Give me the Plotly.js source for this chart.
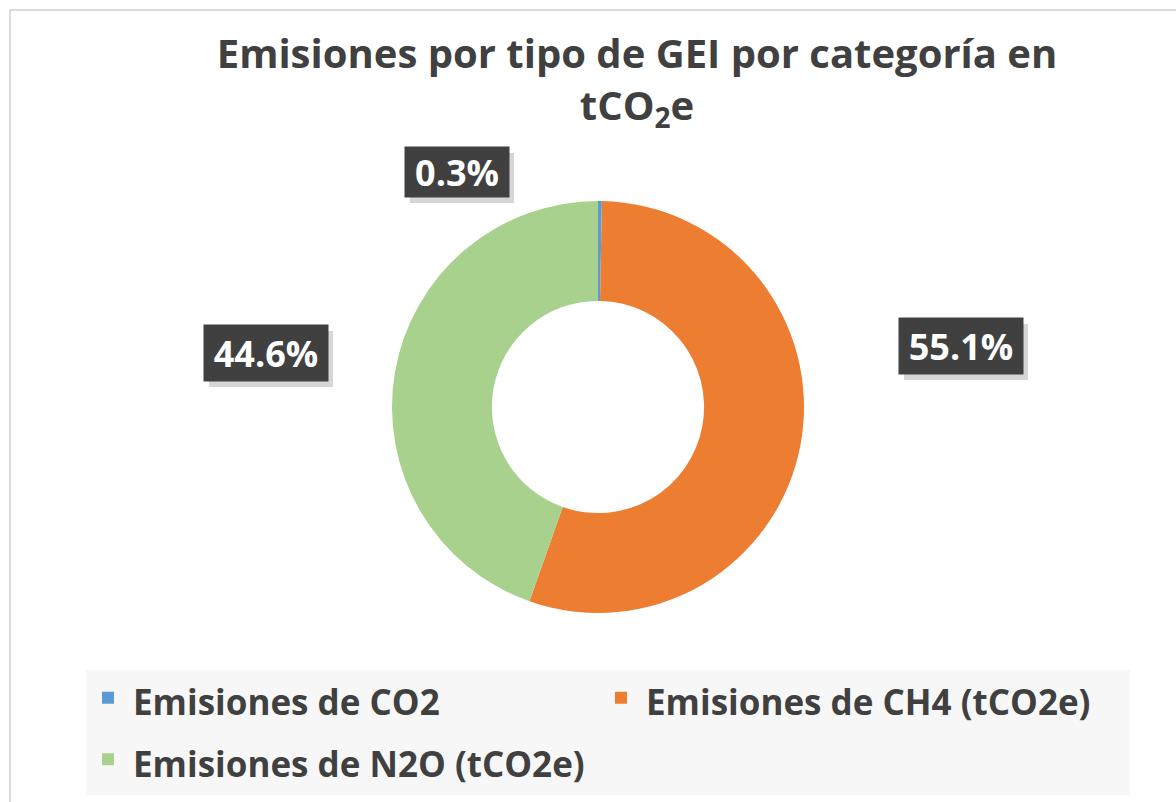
<!DOCTYPE html>
<html>
<head>
<meta charset="utf-8">
<script src="https://cdn.plot.ly/plotly-3.0.1.min.js"></script>
<style>html,body{margin:0;padding:0;background:#fff;overflow:hidden;}#chart{width:1176px;height:802px;}</style>
</head>
<body>
<div id="chart"></div>
<script>
const categories = ["Emisiones de CO2", "Emisiones de CH4 (tCO2e)", "Emisiones de N2O (tCO2e)"];
const shares = [0.3, 55.1, 44.6];
const colors = ["#5b9bd5", "#ed7d31", "#a9d18e"];
// label anchor positions (paper fractions)
const labelX = [457/1176, 961/1176, 266/1176];
const labelY = [1 - 172/802, 1 - 346/802, 1 - 353/802];

const total = shares.reduce((a,b)=>a+b,0);
const W = 1176, H = 802;
const cx = 598, cy = 407, R = 206;

const trace = {
  type: "pie",
  labels: categories.map(c => '<span style="font-size:35px">' + c + '</span>'),
  values: shares,
  marker: {colors: colors, line: {width: 0}},
  hole: 0.515,
  sort: false,
  direction: "clockwise",
  rotation: 0,
  textinfo: "none",
  hoverinfo: "label+percent",
  domain: {x: [(cx - R)/W, (cx + R)/W], y: [(H - cy - R)/H, (H - cy + R)/H]}
};

const annotations = [];
const shapes = [
  {type: "rect", xref: "paper", yref: "paper", x0: 10/W, x1: 1.2, y0: -0.2, y1: 1 - 10/H,
   line: {color: "#d0d0d0", width: 1.5}, fillcolor: "rgba(0,0,0,0)", layer: "below"},
  {type: "rect", xref: "paper", yref: "paper", x0: 86/W, x1: 1130/W, y0: 1 - 795/H, y1: 1 - 670/H,
   line: {width: 0}, fillcolor: "#f7f7f7", layer: "below"}
];
shares.forEach((v, i) => {
  const txt = (v/total*100).toFixed(1) + "%";
  const bw = i === 0 ? 104 : 124, bh = i === 0 ? 50 : 56;
  shapes.push({
    type: "rect", xref: "paper", yref: "paper", xsizemode: "pixel", ysizemode: "pixel",
    xanchor: labelX[i], yanchor: labelY[i],
    x0: -bw/2 + 5, x1: bw/2 + 5, y0: -bh/2 - 6, y1: bh/2 - 6,
    line: {width: 0}, fillcolor: "rgba(0,0,0,0.16)", layer: "above"
  });
  annotations.push({
    xref: "paper", yref: "paper", x: labelX[i], y: labelY[i],
    xanchor: "center", yanchor: "middle",
    text: "<b>" + txt + "</b>", showarrow: false,
    width: bw - 4, height: bh - 4, align: "center", valign: "middle",
    font: {family: "Open Sans", size: 36, color: "#ffffff"},
    bgcolor: "#404040", borderpad: 2
  });
});

const layout = {
  width: W, height: H,
  margin: {l: 0, r: 0, t: 0, b: 0, autoexpand: false},
  paper_bgcolor: "#ffffff",
  title: {
    text: "<b>Emisiones por tipo de GEI por categoría en<br>tCO<sub>2</sub>e</b>",
    font: {family: "Open Sans", size: 40, color: "#404040"},
    x: 637/W, xanchor: "center", xref: "paper",
    y: 1 - 68/H, yanchor: "middle", yref: "container"
  },
  showlegend: true,
  legend: {
    orientation: "h",
    x: 83/W, xanchor: "left",
    y: 1 - 662/H, yanchor: "top",
    bgcolor: "rgba(0,0,0,0)",
    font: {family: "Open Sans", size: 45, color: "#404040", weight: "bold"},
    itemwidth: 40,
    entrywidth: 458, entrywidthmode: "pixels",
    itemclick: false
  },
  shapes: shapes,
  annotations: annotations
};

Plotly.newPlot("chart", [trace], layout, {displayModeBar: false, staticPlot: true});
</script>
</body>
</html>
